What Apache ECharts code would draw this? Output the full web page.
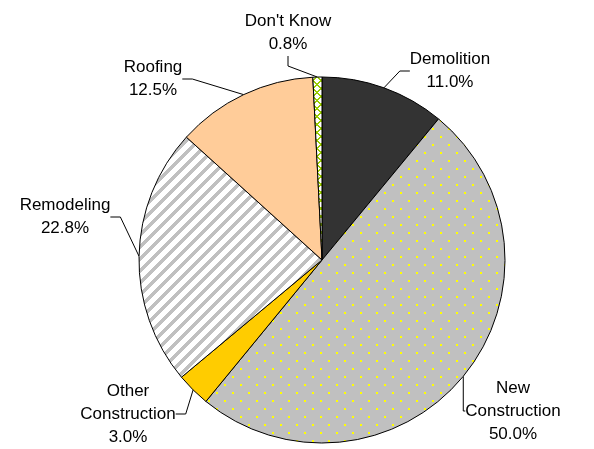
<!DOCTYPE html>
<html><head><meta charset="utf-8">
<script src="https://cdn.jsdelivr.net/npm/echarts@6/dist/echarts.min.js"></script>
<style>html,body{margin:0;padding:0;background:#fff}#c{width:594px;height:449px}</style>
</head><body><div id="c"></div>
<script>
// ---- data ----
const categories = ['Demolition', 'New Construction', 'Other Construction', 'Remodeling', 'Roofing', "Don't Know"];
const labelNames = ['Demolition', 'New\nConstruction', 'Other\nConstruction', 'Remodeling', 'Roofing', "Don't Know"];
const values = [11.0, 50.0, 3.0, 22.8, 12.5, 0.8];

// ---- layout (label centres) ----
const labelPos = [[450, 71], [513, 411], [128, 414], [65, 217], [153, 79], [288, 33]];

function makeTile(w, h, fn) {
  const c = document.createElement('canvas'); c.width = w; c.height = h;
  const g = c.getContext('2d'); const img = g.createImageData(w, h);
  for (let y = 0; y < h; y++) for (let x = 0; x < w; x++) {
    const col = fn(x, y); const k = (y * w + x) * 4;
    img.data[k] = col[0]; img.data[k + 1] = col[1]; img.data[k + 2] = col[2]; img.data[k + 3] = 255;
  }
  g.putImageData(img, 0, 0); return c;
}
const GRAY = [192, 192, 192], WHITE = [255, 255, 255], YEL = [255, 255, 0], GRN = [153, 204, 0];
const dotsTile = makeTile(16, 16, (x, y) => ((x < 2 && y < 2) || (x >= 8 && x < 10 && y >= 8 && y < 10)) ? YEL : GRAY);
const stripeTile = makeTile(12, 12, (x, y) => (((x + y) % 12) < 5 ? GRAY : WHITE));
const latticeTile = makeTile(8, 8, (x, y) => (((x + y) % 8 < 2) || ((x - y + 8) % 8 < 2)) ? GRN : WHITE);

const fills = [
  '#333333',
  { image: dotsTile, repeat: 'repeat' },
  '#FFCC00',
  { image: stripeTile, repeat: 'repeat' },
  '#FFCC99',
  { image: latticeTile, repeat: 'repeat' }
];

const chart = echarts.init(document.getElementById('c'), null, { renderer: 'canvas' });
chart.setOption({
  animation: false,
  backgroundColor: '#fff',
  series: [{
    type: 'pie',
    center: [322, 260],
    radius: 183,
    startAngle: 90,
    clockwise: true,
    avoidLabelOverlap: false,
    emphasis: { disabled: true },
    data: categories.map((n, i) => ({ name: n, value: values[i], itemStyle: { color: fills[i] } })),
    itemStyle: { borderColor: '#000', borderWidth: 1 },
    label: {
      show: true, position: 'outside',
      formatter: p => labelNames[p.dataIndex] + '\n' + values[p.dataIndex].toFixed(1) + '%',
      color: '#000', fontFamily: 'Liberation Sans, Arial, sans-serif', fontSize: 17, lineHeight: 23
    },
    labelLine: { show: true, length: 10, length2: 10, lineStyle: { color: '#000', width: 1 } },
    labelLayout: p => ({ x: labelPos[p.dataIndex][0], y: labelPos[p.dataIndex][1], align: 'center', verticalAlign: 'middle' })
  }]
});
</script></body></html>
